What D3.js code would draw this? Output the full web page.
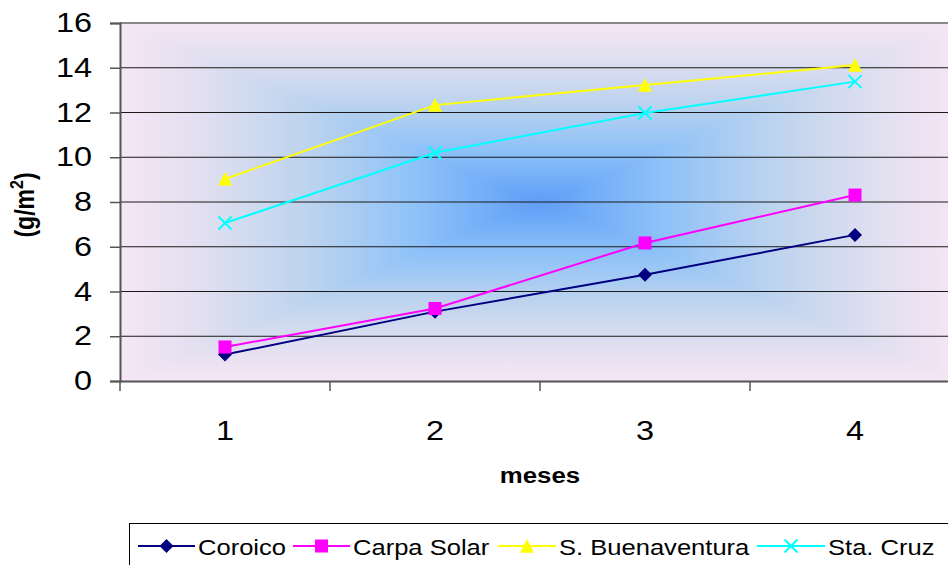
<!DOCTYPE html>
<html>
<head>
<meta charset="utf-8">
<script src="https://cdn.jsdelivr.net/npm/d3@7"></script>
<style>
  html, body { margin: 0; padding: 0; background: #fff; }
  svg { display: block; font-family: "Liberation Sans", Arial, sans-serif; }
</style>
</head>
<body>
<svg id="chart" width="948" height="565"></svg>
<script>
// Monthly values (g/m²) per site
const months = ["1", "2", "3", "4"];
const coroico = [1.18, 3.1, 4.75, 6.53];
const carpaSolar = [1.52, 3.24, 6.17, 8.31];
const sBuenaventura = [9.03, 12.33, 13.23, 14.12];
const staCruz = [7.06, 10.2, 11.98, 13.38];
const seriesNames = ["Coroico", "Carpa Solar", "S. Buenaventura", "Sta. Cruz"];
const seriesColors = ["#000080", "#ff00ff", "#ffff00", "#00ffff"];
const seriesMarkers = ["diamond", "square", "triangle", "cross"];
const yTicks = [0, 2, 4, 6, 8, 10, 12, 14, 16];

const seriesValues = [coroico, carpaSolar, sBuenaventura, staCruz];
const series = seriesNames.map((name, i) => ({
  name, color: seriesColors[i], marker: seriesMarkers[i], values: seriesValues[i]
}));

// Text is drawn slightly widened, like the rest of the chart
const SX = 1.2;

const svg = d3.select("#chart");
const plot = { left: 120, top: 23, right: 960, bottom: 381 };

const x = d3.scaleBand().domain(months).range([plot.left, plot.right]);
const y = d3.scaleLinear().domain([0, 16]).range([plot.bottom, plot.top]);

// Rectangular "from center" gradient: four triangles, each shaded from edge to centre
const defs = svg.append("defs");
const cx = (plot.left + plot.right) / 2, cy = (plot.top + plot.bottom) / 2;
const stops = [
  [0, "#f6e6f5"], [0.2, "#e0dff0"], [0.45, "#bcd3ee"],
  [0.7, "#8fc2f8"], [0.88, "#72adf8"], [1, "#5f9cf6"]
];
const grads = [
  { id: "gTop", x1: cx, y1: plot.top, x2: cx, y2: cy,
    pts: [[plot.left, plot.top], [plot.right, plot.top], [cx, cy]] },
  { id: "gBottom", x1: cx, y1: plot.bottom, x2: cx, y2: cy,
    pts: [[plot.left, plot.bottom], [plot.right, plot.bottom], [cx, cy]] },
  { id: "gLeft", x1: plot.left, y1: cy, x2: cx, y2: cy,
    pts: [[plot.left, plot.top], [plot.left, plot.bottom], [cx, cy]] },
  { id: "gRight", x1: plot.right, y1: cy, x2: cx, y2: cy,
    pts: [[plot.right, plot.top], [plot.right, plot.bottom], [cx, cy]] }
];
grads.forEach(g => {
  const lg = defs.append("linearGradient").attr("id", g.id)
    .attr("gradientUnits", "userSpaceOnUse")
    .attr("x1", g.x1).attr("y1", g.y1).attr("x2", g.x2).attr("y2", g.y2);
  stops.forEach(s => lg.append("stop").attr("offset", s[0]).attr("stop-color", s[1]));
  svg.append("polygon")
    .attr("points", g.pts.map(p => p.join(",")).join(" "))
    .attr("fill", `url(#${g.id})`)
    .attr("stroke", `url(#${g.id})`).attr("stroke-width", 0.6);
});

// Horizontal gridlines
svg.append("g").selectAll("line")
  .data(yTicks.filter(t => t > 0 && t < 16))
  .join("line")
  .attr("x1", plot.left).attr("x2", plot.right)
  .attr("y1", d => y(d)).attr("y2", d => y(d))
  .attr("stroke", "#1a1a1a").attr("stroke-width", 1);

// Top border of plot area
svg.append("line")
  .attr("x1", plot.left).attr("x2", plot.right)
  .attr("y1", plot.top).attr("y2", plot.top)
  .attr("stroke", "#888").attr("stroke-width", 2);

// Y axis
const yAxis = svg.append("g")
  .attr("transform", `translate(${plot.left},0)`)
  .call(d3.axisLeft(y).tickValues(yTicks).tickSize(10));
yAxis.select(".domain").attr("stroke", "#555").attr("stroke-width", 2);
yAxis.selectAll(".tick line").attr("stroke", "#555").attr("stroke-width", 1.5);
yAxis.selectAll(".tick text")
  .attr("x", -28 / SX)
  .attr("transform", `scale(${SX},1)`)
  .attr("font-size", 27).attr("fill", "#000")
  .attr("font-family", "Liberation Sans, Arial, sans-serif");

// X axis
const xAxis = svg.append("g")
  .attr("transform", `translate(0,${plot.bottom})`)
  .call(d3.axisBottom(x).tickSize(0).tickPadding(40));
xAxis.select(".domain").attr("stroke", "#555").attr("stroke-width", 2);
xAxis.selectAll(".tick text")
  .attr("transform", `scale(${SX},1)`)
  .attr("font-size", 27).attr("fill", "#000")
  .attr("font-family", "Liberation Sans, Arial, sans-serif");
// Tick marks on category boundaries
svg.append("g").selectAll("line")
  .data(months)
  .join("line")
  .attr("x1", d => x(d)).attr("x2", d => x(d))
  .attr("y1", plot.bottom).attr("y2", plot.bottom + 10)
  .attr("stroke", "#555").attr("stroke-width", 1.5);

// Axis titles
svg.append("text")
  .attr("transform", `translate(540,483) scale(${SX},1)`)
  .attr("text-anchor", "middle")
  .attr("font-size", 21.5).attr("font-weight", "bold")
  .text("meses");

const yTitle = svg.append("text")
  .attr("transform", `translate(34,205) rotate(-90) scale(1,${SX})`)
  .attr("text-anchor", "middle")
  .attr("font-size", 23).attr("font-weight", "bold");
yTitle.append("tspan").text("(g/m");
yTitle.append("tspan").attr("font-size", 16).attr("dy", -9).text("2");
yTitle.append("tspan").attr("dy", 9).text(")");

// Marker shapes
function drawMarker(g, type, color, s) {
  if (type === "diamond") {
    g.append("path").attr("d", `M0,${-s}L${s},0L0,${s}L${-s},0Z`).attr("fill", color);
  } else if (type === "square") {
    g.append("rect").attr("x", -s).attr("y", -s).attr("width", 2 * s).attr("height", 2 * s)
      .attr("fill", color);
  } else if (type === "triangle") {
    g.append("path").attr("d", `M0,${-s}L${s},${s * 0.95}L${-s},${s * 0.95}Z`).attr("fill", color);
  } else if (type === "cross") {
    g.append("path").attr("d", `M${-s},${-s}L${s},${s}M${-s},${s}L${s},${-s}`)
      .attr("stroke", color).attr("stroke-width", 2).attr("fill", "none");
  }
}
const markerSize = { diamond: 7, square: 6.5, triangle: 7, cross: 6.5 };

const line = d3.line()
  .x((d, i) => x(months[i]) + x.bandwidth() / 2)
  .y(d => y(d));

series.forEach(s => {
  svg.append("path")
    .attr("d", line(s.values))
    .attr("fill", "none").attr("stroke", s.color).attr("stroke-width", 2);
});
series.forEach(s => {
  s.values.forEach((v, i) => {
    const g = svg.append("g")
      .attr("transform", `translate(${x(months[i]) + x.bandwidth() / 2},${y(v)})`);
    drawMarker(g, s.marker, s.color, markerSize[s.marker]);
  });
});

// Legend
const legend = svg.append("g");
legend.append("rect")
  .attr("x", 129.5).attr("y", 523.5).attr("width", 830).attr("height", 60)
  .attr("fill", "#fff").attr("stroke", "#000").attr("stroke-width", 1);
const legendX = [138, 293, 498, 757];
const legendLineW = [57, 57, 58, 68];
series.forEach((s, i) => {
  const lx = legendX[i], ly = 546;
  legend.append("line")
    .attr("x1", lx).attr("x2", lx + legendLineW[i])
    .attr("y1", ly).attr("y2", ly)
    .attr("stroke", s.color).attr("stroke-width", 2);
  const g = legend.append("g").attr("transform", `translate(${lx + legendLineW[i] / 2},${ly})`);
  drawMarker(g, s.marker, s.color, markerSize[s.marker]);
  legend.append("text")
    .attr("transform", `translate(${lx + legendLineW[i] + 3},${ly + 8.5}) scale(${SX},1)`)
    .attr("font-size", 21.3)
    .text(s.name);
});
</script>
</body>
</html>
